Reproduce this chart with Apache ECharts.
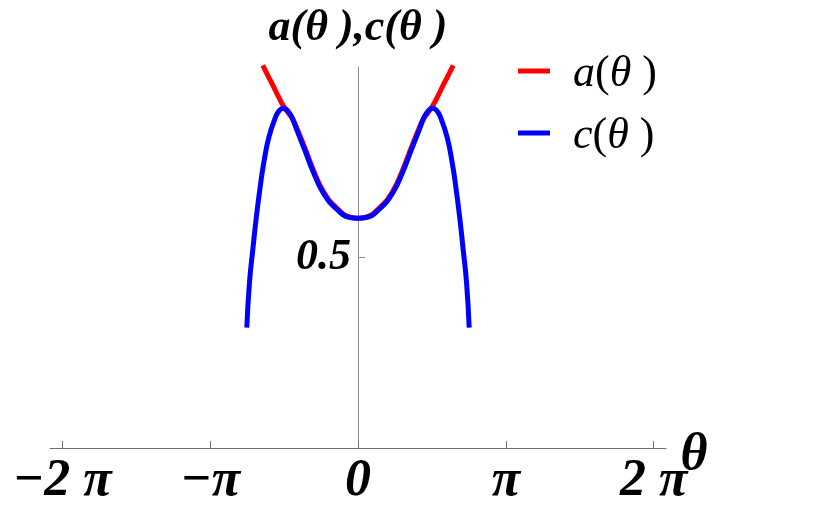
<!DOCTYPE html>
<html>
<head>
<meta charset="utf-8">
<script src="https://cdn.jsdelivr.net/npm/echarts@6/dist/echarts.min.js"></script>
<style>
html,body{margin:0;padding:0;background:#fff;}
#chart{width:830px;height:521px;}
</style>
</head>
<body>
<div id="chart"></div>
<script>
// theta in units of pi
var aTheta = [-0.644, -0.606, -0.572, -0.539, -0.502, -0.475, -0.446, -0.414, -0.358, -0.302, -0.234, -0.144, -0.054, 0,
              0.054, 0.144, 0.234, 0.302, 0.358, 0.414, 0.446, 0.475, 0.502, 0.539, 0.572, 0.606, 0.644];
var aValues = [1.004, 0.975, 0.949, 0.923, 0.896, 0.881, 0.866, 0.840, 0.786, 0.730, 0.673, 0.630, 0.606, 0.603,
               0.606, 0.630, 0.673, 0.730, 0.786, 0.840, 0.866, 0.881, 0.896, 0.923, 0.949, 0.975, 1.004];

var cTheta = [-0.752, -0.734, -0.711, -0.689, -0.662, -0.637, -0.603, -0.559, -0.530, -0.502, -0.475, -0.446, -0.414, -0.358, -0.302, -0.234, -0.144, -0.054, 0,
              0.054, 0.144, 0.234, 0.302, 0.358, 0.414, 0.446, 0.475, 0.502, 0.530, 0.559, 0.603, 0.637, 0.662, 0.689, 0.711, 0.734, 0.752];
var cValues = [0.316, 0.434, 0.522, 0.601, 0.684, 0.749, 0.815, 0.867, 0.887, 0.892, 0.885, 0.867, 0.835, 0.780, 0.724, 0.669, 0.627, 0.605, 0.603,
               0.605, 0.627, 0.669, 0.724, 0.780, 0.835, 0.867, 0.885, 0.892, 0.887, 0.867, 0.815, 0.749, 0.684, 0.601, 0.522, 0.434, 0.316];

var xTicks = [-2, -1, 0, 1, 2];
var xTickLabels = ['\u22122 \u03c0', '\u2212\u03c0', '0', '\u03c0', '2 \u03c0'];
var yTicks = [0.5];
var yTickLabels = ['0.5'];
var seriesNames = ['a(\u03b8 )', 'c(\u03b8 )'];

function pairs(xs, ys) { return xs.map(function (x, i) { return [x, ys[i]]; }); }

var serif = 'Liberation Serif';
var chart = echarts.init(document.getElementById('chart'), null, {renderer: 'canvas'});
chart.setOption({
  animation: false,
  backgroundColor: '#fff',
  grid: {left: 50, right: 164, top: 67, bottom: 73, containLabel: false, outerBoundsMode: 'none'},
  legend: {
    orient: 'vertical',
    left: 513,
    top: 47,
    itemWidth: 32,
    itemHeight: 5,
    itemGap: 18,
    icon: 'rect',
    data: seriesNames,
    formatter: function (n) {
      var letter = n.charAt(0);
      return '{i|' + letter + '}{r|(}{i|\u03b8}{r| )}';
    },
    textStyle: {
      padding: [6, 0, 0, 18],
      rich: {
        i: {fontFamily: serif, fontStyle: 'italic', fontSize: 44, color: '#000', lineHeight: 48},
        r: {fontFamily: serif, fontSize: 44, color: '#000', lineHeight: 48}
      }
    }
  },
  xAxis: {
    type: 'value',
    min: -2.083,
    max: 2.083,
    name: '{t|\u03b8}',
    nameLocation: 'end',
    nameGap: 28,
    nameMoveOverlap: false,
    nameTextStyle: {
      align: 'center', verticalAlign: 'middle',
      rich: {t: {fontFamily: serif, fontStyle: 'italic', fontWeight: 'bold', fontSize: 52, color: '#000', padding: [16, 0, 0, 0]}}
    },
    axisLine: {onZero: true, lineStyle: {color: '#707070', width: 1}},
    axisTick: {show: true, inside: true, length: 7, customValues: xTicks, lineStyle: {color: '#707070'}},
    axisLabel: {
      customValues: xTicks,
      margin: 8,
      fontFamily: serif, fontStyle: 'italic', fontWeight: 'bold', fontSize: 52, color: '#000',
      formatter: function (v) {
        var i = xTicks.indexOf(Math.round(v));
        return i >= 0 ? xTickLabels[i] : '';
      }
    },
    splitLine: {show: false}
  },
  yAxis: {
    type: 'value',
    min: 0,
    max: 1,
    position: 'left',
    offset: -308,
    name: 'a(\u03b8 ),c(\u03b8 )',
    nameLocation: 'end',
    nameGap: 16,
    nameMoveOverlap: false,
    nameTextStyle: {fontFamily: serif, fontStyle: 'italic', fontWeight: 'bold', fontSize: 44, color: '#000', align: 'center'},
    axisLine: {onZero: false, lineStyle: {color: '#909090', width: 1}},
    axisTick: {show: true, inside: true, length: 7, customValues: yTicks, lineStyle: {color: '#909090'}},
    axisLabel: {
      customValues: yTicks,
      margin: 7,
      padding: [3, 0, 0, 0],
      fontFamily: serif, fontStyle: 'italic', fontWeight: 'bold', fontSize: 44, color: '#000',
      formatter: function (v) {
        var i = yTicks.indexOf(v);
        return i >= 0 ? yTickLabels[i] : '';
      }
    },
    splitLine: {show: false}
  },
  series: [
    {
      name: seriesNames[0], type: 'line', data: pairs(aTheta, aValues),
      showSymbol: false, smooth: 0.5, clip: false,
      lineStyle: {color: '#ff0000', width: 5}, itemStyle: {color: '#ff0000'}
    },
    {
      name: seriesNames[1], type: 'line', data: pairs(cTheta, cValues),
      showSymbol: false, smooth: 0.5, clip: false,
      lineStyle: {color: '#0000ff', width: 5}, itemStyle: {color: '#0000ff'}
    }
  ]
});
</script>
</body>
</html>
